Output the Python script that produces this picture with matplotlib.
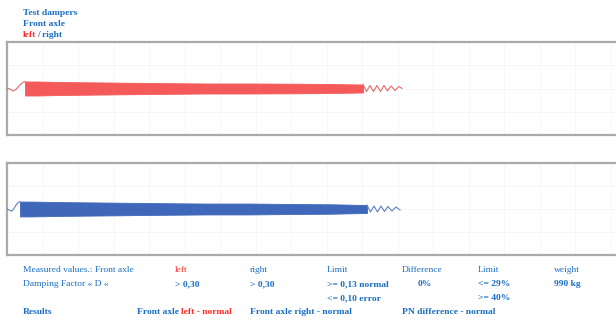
import numpy as np
import matplotlib.pyplot as plt
from matplotlib.ticker import MultipleLocator

plt.rcParams['font.family'] = ['Liberation Serif', 'DejaVu Serif']

BLUE = '#1b6ec2'
RED = '#ff2a2a'

# --------------------
# Signal traces (x = px from panel left, y = deflection, up positive)
# --------------------
# red = left, blue = right
red_env_x = [18, 30, 53, 100, 143, 200, 243, 290, 323, 356]
red_env_hi = [7.0, 7.0, 6.5, 6.0, 5.5, 5.0, 5.0, 4.8, 4.5, 4.0]
red_env_lo = [-7.0, -7.0, -6.5, -6.0, -5.5, -5.0, -5.0, -4.8, -4.5, -4.0]
red_head_x = [0, 3, 6, 9, 12, 15, 18]
red_head_y = [0, -0.5, -2.5, -1.0, 2.5, 5.5, 7.0]
red_tail_x = [356, 359.5, 363, 366.5, 370, 373.5, 377, 380.5, 384, 388, 392, 395]
red_tail_y = [4.0, -3.0, 3.0, -3.0, 3.0, -3.0, 3.0, -2.5, 2.5, -2.0, 2.0, 0.0]

blue_env_x = [13, 25, 53, 100, 143, 200, 243, 290, 323, 360]
blue_env_hi = [7.5, 7.5, 7.0, 6.5, 6.0, 5.5, 5.5, 5.0, 4.8, 4.0]
blue_env_lo = [-7.5, -7.5, -7.0, -6.5, -6.0, -5.5, -5.5, -5.0, -4.8, -4.0]
blue_head_x = [0, 3, 5, 7, 9, 11, 13]
blue_head_y = [0, -1.5, -2.0, 0.5, 4.0, 6.5, 7.5]
blue_tail_x = [360, 363.5, 367, 370.5, 374, 377.5, 381, 385, 389, 393]
blue_tail_y = [4.0, -3.0, 3.0, -3.0, 3.0, -2.5, 2.5, -2.0, 2.0, -1.0]

# --------------------
# Table texts
# --------------------
col_x = [175, 250, 327, 402, 478, 554]
row1 = ['left', 'right', 'Limit', 'Difference', 'Limit', 'weight']
row2 = ['> 0,30', '> 0,30', '>= 0,13 normal', '0%', '<= 29%', '990 kg']
row3 = ['', '', '<= 0,10 error', '', '>= 40%', '']

W, H = 616, 320
fig = plt.figure(figsize=(W / 100, H / 100), dpi=100)


def panel(top, bottom, env_x, hi, lo, hx, hy, tx, ty, band_c, line_c):
    ax = fig.add_axes([7 / W, 1 - bottom / H, 625 / W, (bottom - top) / H])
    ax.set_xlim(0, 625)
    ax.set_ylim(-46.5, 46.5)
    ax.xaxis.set_major_locator(MultipleLocator(35.5))
    ax.yaxis.set_major_locator(MultipleLocator(23.25))
    ax.set_axisbelow(True)
    ax.grid(True, color='#f5f5f5', lw=0.6)
    ax.tick_params(length=0, labelbottom=False, labelleft=False)
    for s in ax.spines.values():
        s.set_color('#aaaaaa')
        s.set_linewidth(1.6)
    ax.fill_between(env_x, lo, hi, color=band_c, lw=0.6, edgecolor=band_c, zorder=3)
    ax.plot(hx, hy, color=line_c, lw=0.8, zorder=3)
    ax.plot(tx, ty, color=line_c, lw=0.8, zorder=3)
    return ax


panel(42, 135, red_env_x, red_env_hi, red_env_lo, red_head_x, red_head_y,
      red_tail_x, red_tail_y, '#f45a5a', '#e26a6a')
panel(163, 255, blue_env_x, blue_env_hi, blue_env_lo, blue_head_x, blue_head_y,
      blue_tail_x, blue_tail_y, '#4068ba', '#5f7fc0')


def txt(x, y, s, color=BLUE, bold=False):
    return fig.text(x / W, 1 - y / H, s, color=color, fontsize=6.8,
                    fontweight='bold' if bold else 'normal', va='center', ha='left')


def after(t, y, s, color=BLUE, bold=True, gap=0):
    fig.canvas.draw()
    bb = t.get_window_extent()
    return txt(bb.x1 + gap, y, s, color, bold)


# title block
txt(23, 13, 'Test dampers', bold=True)
txt(23, 24, 'Front axle', bold=True)
t = txt(23, 35, 'left', RED, bold=True)
after(t, 35, '/ right', gap=1)

# measured values
txt(23, 270, 'Measured values.: Front axle')
txt(23, 284, 'Damping Factor \u00ab D \u00ab')
for i, x in enumerate(col_x):
    txt(x, 270, row1[i], RED if i == 0 else BLUE)
    x2 = 418 if row2[i] == '0%' else x
    txt(x2, 284, row2[i], bold=True)
    if row3[i]:
        txt(x, 298, row3[i], bold=True)

# results
txt(23, 312, 'Results', bold=True)
t = txt(137, 312, 'Front axle', bold=True)
after(t, 312, 'left - normal', RED, gap=2)
txt(250, 312, 'Front axle right - normal', bold=True)
txt(402, 312, 'PN difference - normal', bold=True)

fig.savefig('out.png', dpi=100)
